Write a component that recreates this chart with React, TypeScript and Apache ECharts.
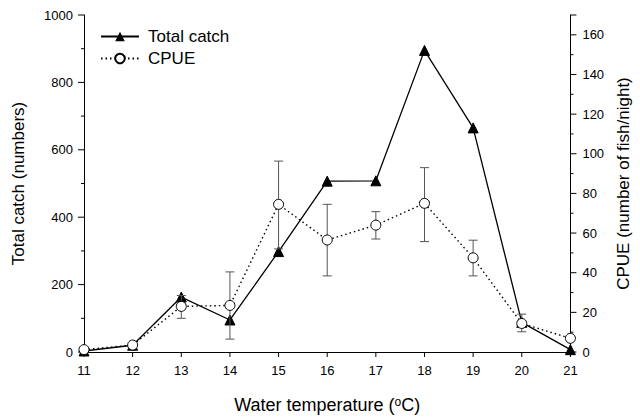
import React, { useEffect, useRef } from "react";
import * as echarts from "echarts";

const temps = [11, 12, 13, 14, 15, 16, 17, 18, 19, 20, 21];
const totalCatch = [3, 20, 163, 95, 298, 507, 508, 895, 665, 88, 7];
const cpue = [1.2, 3.5, 23, 23.5, 74.5, 56.5, 64, 75, 47.5, 14.4, 6.9];
const cpueLow = [null, null, 17, 6.5, 52, 38.4, 57, 55.7, 38.4, 10.2, null];
const cpueHigh = [null, null, 28.5, 40.4, 96.3, 74.5, 70.8, 93, 56.4, 19.1, null];

const leftMajorTicks = [0, 200, 400, 600, 800, 1000];
const leftMinorTicks = [100, 300, 500, 700, 900];
const rightMajorTicks = [0, 20, 40, 60, 80, 100, 120, 140, 160, 170];
const rightMinorTicks = [10, 30, 50, 70, 90, 110, 130, 150];

const FONT = "Liberation Sans, Arial, sans-serif";

export default function App() {
  const ref = useRef<HTMLDivElement>(null);
  useEffect(() => {
    if (!ref.current) return;
    const chart = echarts.init(ref.current, undefined, { renderer: "svg" });
    const catchData = temps.map((t, i) => [t, totalCatch[i]]);
    const cpueData = temps.map((t, i) => [t, cpue[i]]);
    const errData = temps
      .map((t, i) => [t, cpueLow[i], cpueHigh[i]])
      .filter((d) => d[1] != null && d[2] != null);

    const axisCommon = {
      axisLine: { show: true, lineStyle: { color: "#000", width: 1 } },
      axisTick: { show: false },
      axisLabel: { color: "#000", fontSize: 13, fontFamily: FONT, formatter: (v: number) => String(v) },
      splitLine: { show: false },
      nameTextStyle: { color: "#000", fontSize: 17, fontFamily: FONT },
    };

    const tickStyle = { stroke: "#000", lineWidth: 1 };
    // dx, dy: tick direction and length in pixels
    const tickSeries = (name: string, points: number[][], yIdx: number, dx: number, dy: number) => ({
      name,
      type: "custom",
      coordinateSystem: "cartesian2d",
      yAxisIndex: yIdx,
      silent: true,
      clip: false,
      z: 1,
      encode: { x: 0, y: 1 },
      data: points,
      renderItem: (params: any, api: any) => {
        const p = api.coord([api.value(0), api.value(1)]);
        return {
          type: "line",
          shape: { x1: p[0], y1: p[1], x2: p[0] + dx, y2: p[1] + dy },
          style: tickStyle,
        };
      },
    });

    chart.setOption({
      animation: false,
      backgroundColor: "#fff",
      textStyle: { fontFamily: FONT },
      grid: { left: 84, right: 69, top: 15, bottom: 66, containLabel: false },
      legend: {
        orient: "vertical",
        left: 100,
        top: 28,
        padding: 0,
        itemWidth: 38,
        itemHeight: 12,
        itemGap: 5,
        data: ["Total catch", "CPUE"],
        textStyle: { color: "#000", fontSize: 17, fontFamily: FONT, padding: [0, 0, 0, 4] },
      },
      xAxis: {
        type: "value",
        min: 11,
        max: 21,
        interval: 1,
        ...axisCommon,
        axisLabel: { ...axisCommon.axisLabel, margin: 12 },
        name: "Water temperature ({sup|o}C)",
        nameLocation: "middle",
        nameGap: 44,
        nameTextStyle: {
          color: "#000",
          fontSize: 18,
          fontFamily: FONT,
          rich: { sup: { fontSize: 12, verticalAlign: "top", padding: [0, 0, 6, 0], fontFamily: FONT, color: "#000" } },
        },
      },
      yAxis: [
        {
          type: "value",
          position: "left",
          min: 0,
          max: 1000,
          interval: 200,
          ...axisCommon,
          axisLabel: { ...axisCommon.axisLabel, margin: 11 },
          name: "Total catch (numbers)",
          nameLocation: "middle",
          nameRotate: 90,
          nameGap: 57,
        },
        {
          type: "value",
          position: "right",
          min: 0,
          max: 170,
          interval: 20,
          ...axisCommon,
          axisLabel: { ...axisCommon.axisLabel, margin: 12, showMaxLabel: false },
          name: "CPUE (number of fish/night)",
          nameLocation: "middle",
          nameRotate: 90,
          nameGap: 44,
        },
      ],
      series: [
        tickSeries("tx", temps.map((t) => [t, 0]), 0, 0, 5),
        tickSeries("tl", leftMajorTicks.map((v) => [11, v]), 0, -6, 0),
        tickSeries("tlm", leftMinorTicks.map((v) => [11, v]), 0, -3, 0),
        tickSeries("tr", rightMajorTicks.map((v) => [21, v]), 1, 6, 0),
        tickSeries("trm", rightMinorTicks.map((v) => [21, v]), 1, 3, 0),
        {
          name: "Total catch",
          type: "line",
          yAxisIndex: 0,
          data: catchData,
          symbol: "triangle",
          symbolSize: 10,
          z: 2,
          lineStyle: { color: "#000", width: 1.3, type: "solid" },
          itemStyle: { color: "#000", borderColor: "#000" },
        },
        {
          name: "errors",
          type: "custom",
          yAxisIndex: 1,
          data: errData,
          z: 3,
          encode: { x: 0, y: [1, 2] },
          renderItem: (params: any, api: any) => {
            const x = api.value(0);
            const lo = api.coord([x, api.value(1)]);
            const hi = api.coord([x, api.value(2)]);
            const w = 4.5;
            const style = { stroke: "#555", lineWidth: 1 };
            return {
              type: "group",
              children: [
                { type: "line", shape: { x1: lo[0], y1: lo[1], x2: hi[0], y2: hi[1] }, style },
                { type: "line", shape: { x1: lo[0] - w, y1: lo[1], x2: lo[0] + w, y2: lo[1] }, style },
                { type: "line", shape: { x1: hi[0] - w, y1: hi[1], x2: hi[0] + w, y2: hi[1] }, style },
              ],
            };
          },
        },
        {
          name: "CPUE",
          type: "line",
          yAxisIndex: 1,
          data: cpueData,
          symbol: "circle",
          symbolSize: 10,
          z: 4,
          lineStyle: { color: "#000", width: 1.4, type: [1.5, 3] },
          itemStyle: { color: "#fff", borderColor: "#000", borderWidth: 1 },
        },
      ],
    });
    return () => chart.dispose();
  }, []);
  return <div ref={ref} style={{ position: "fixed", left: 0, top: 0, width: 640, height: 419 }} />;
}
